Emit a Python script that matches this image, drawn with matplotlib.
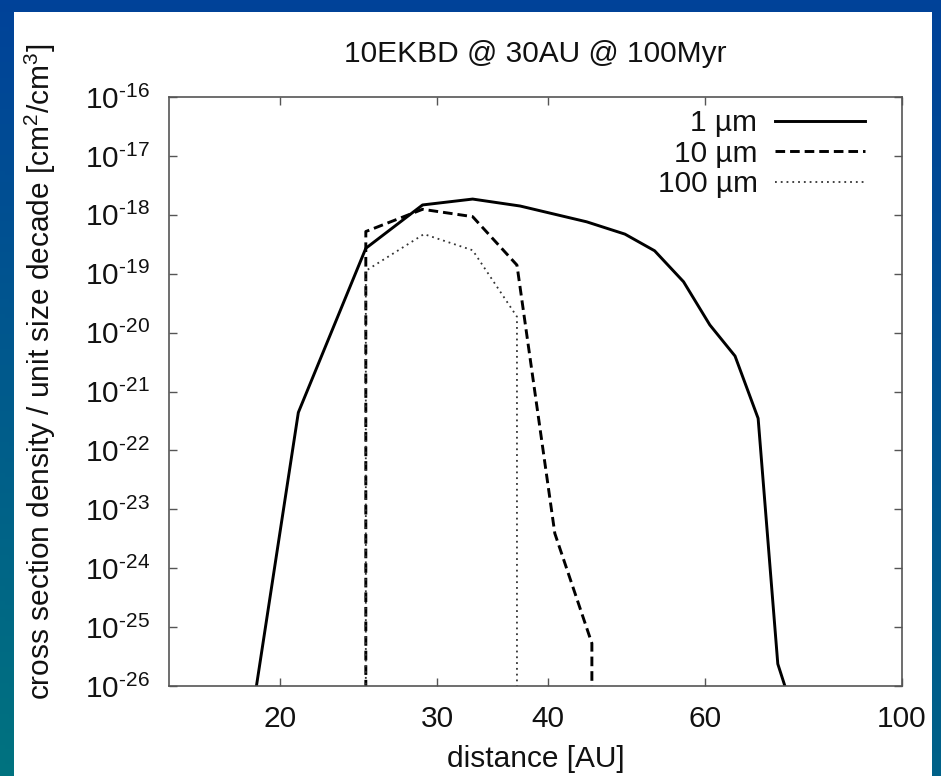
import numpy as np
import matplotlib
matplotlib.use("Agg")
import matplotlib.pyplot as plt
from matplotlib.patches import Rectangle
from matplotlib.ticker import FixedLocator, FixedFormatter, NullLocator

plt.rcParams['font.family'] = ['Liberation Sans', 'DejaVu Sans']
plt.rcParams['mathtext.fontset'] = 'custom'
plt.rcParams['mathtext.rm'] = 'Liberation Sans'
plt.rcParams['mathtext.it'] = 'Liberation Sans:italic'
plt.rcParams['mathtext.bf'] = 'Liberation Sans:bold'

# ---- data ----
title = "10EKBD @ 30AU @ 100Myr"
xlabel = "distance [AU]"
ylabel = "cross section density / unit size decade [cm$^2$/cm$^3$]"
series_labels = ["1 µm", "10 µm", "100 µm"]

x_1um = [17.0, 20.95, 24.95, 28.9, 32.9, 37.2, 44.2, 48.8, 52.7, 56.8, 60.8, 64.9, 68.9, 72.5, 77.0]
y_1um = [5e-31, 4.4e-22, 2.7e-19, 1.47e-18, 1.85e-18, 1.41e-18, 7.6e-19, 4.7e-19,
         2.45e-19, 7.3e-20, 1.35e-20, 4.0e-21, 3.5e-22, 2.37e-26, 1.4e-27]

x_10um = [24.95, 24.95, 28.9, 32.9, 36.9, 40.7, 44.8, 44.8]
y_10um = [1e-30, 5.2e-19, 1.24e-18, 9.3e-19, 1.4e-19, 3.9e-24, 5.3e-26, 1e-30]

x_100um = [24.95, 24.95, 29.0, 32.9, 36.9, 36.9]
y_100um = [1e-30, 1.12e-19, 4.7e-19, 2.5e-19, 1.86e-20, 1e-30]

x_ticks = [20, 30, 40, 60, 100]
x_ticklabels = ["20", "30", "40", "60", "100"]
y_exponents = [-16, -17, -18, -19, -20, -21, -22, -23, -24, -25, -26]
x_limits = (15, 100)
y_limits = (1e-26, 1e-16)

# ---- figure ----
W, H = 941, 776
fig = plt.figure(figsize=(W / 100, H / 100), dpi=100)

# background gradient (slide background)
bg = fig.add_axes([0, 0, 1, 1], zorder=0)
bg.set_axis_off()
yy, xx = np.mgrid[0:1:200j, 0:1:200j]
top = np.array([0.0, 0.26, 0.60])
bottom = np.array([0.0, 0.45, 0.50])
t = np.clip(yy * (1.0 - 0.35 * xx), 0, 1)[..., None]
img = top * (1 - t) + bottom * t
bg.imshow(img, extent=[0, 1, 0, 1], aspect='auto', origin='upper')
bg.set_xlim(0, 1)
bg.set_ylim(0, 1)
bg.add_patch(Rectangle((14 / W, 0), (932 - 14) / W, 1 - 12 / H,
                       transform=bg.transAxes, facecolor='white', edgecolor='none'))

left, right, top_px, bot_px = 169.3, 902.0, 97.0, 686.0
ax = fig.add_axes([left / W, 1 - bot_px / H, (right - left) / W, (bot_px - top_px) / H], zorder=2)
ax.set_facecolor('none')

fs = 21.5
ax.plot(x_1um, y_1um, color='black', lw=2.1, linestyle='-', label=series_labels[0])
ax.plot(x_10um, y_10um, color='black', lw=2.1, linestyle=(0, (3.3, 1.7)), label=series_labels[1])
ax.plot(x_100um, y_100um, color='#333333', lw=1.3, linestyle=(0, (1.0, 2.2)), label=series_labels[2])

ax.set_xscale('log')
ax.set_yscale('log')
ax.set_xlim(*x_limits)
ax.set_ylim(*y_limits)

ax.xaxis.set_major_locator(FixedLocator(x_ticks))
ax.xaxis.set_major_formatter(FixedFormatter(x_ticklabels))
ax.xaxis.set_minor_locator(NullLocator())
yt = [10.0 ** e for e in y_exponents]
ax.yaxis.set_major_locator(FixedLocator(yt))
hyph = "\u2010"
ax.yaxis.set_major_formatter(FixedFormatter(["$\\mathregular{10^{" + hyph + str(-e) + "}}$" for e in y_exponents]))
ax.yaxis.set_minor_locator(NullLocator())

for sp in ax.spines.values():
    sp.set_color('#555555')
    sp.set_linewidth(1.2)
ax.tick_params(which='major', direction='in', length=6, width=1.0, color='#555555',
               top=True, right=True, labelsize=fs, labelcolor='#111111', pad=14)

ax.set_title(title, fontsize=fs, color='#111111', pad=25)
ax.set_xlabel(xlabel, fontsize=fs, color='#111111', labelpad=8)
fig.text(40 / W, 1 - 372 / H, ylabel, rotation=90, ha='center', va='center',
         fontsize=fs, color='#111111')

leg = ax.legend(loc='upper right', bbox_to_anchor=((865 - left) / (right - left), 1 - (109 - top_px) / (bot_px - top_px)),
                frameon=False, markerfirst=False, fontsize=fs, handlelength=3.0,
                handletextpad=0.6, labelspacing=0.09, borderaxespad=0, borderpad=0)
for txt in leg.get_texts():
    txt.set_color('#111111')

fig.savefig("out.png", dpi=100)
